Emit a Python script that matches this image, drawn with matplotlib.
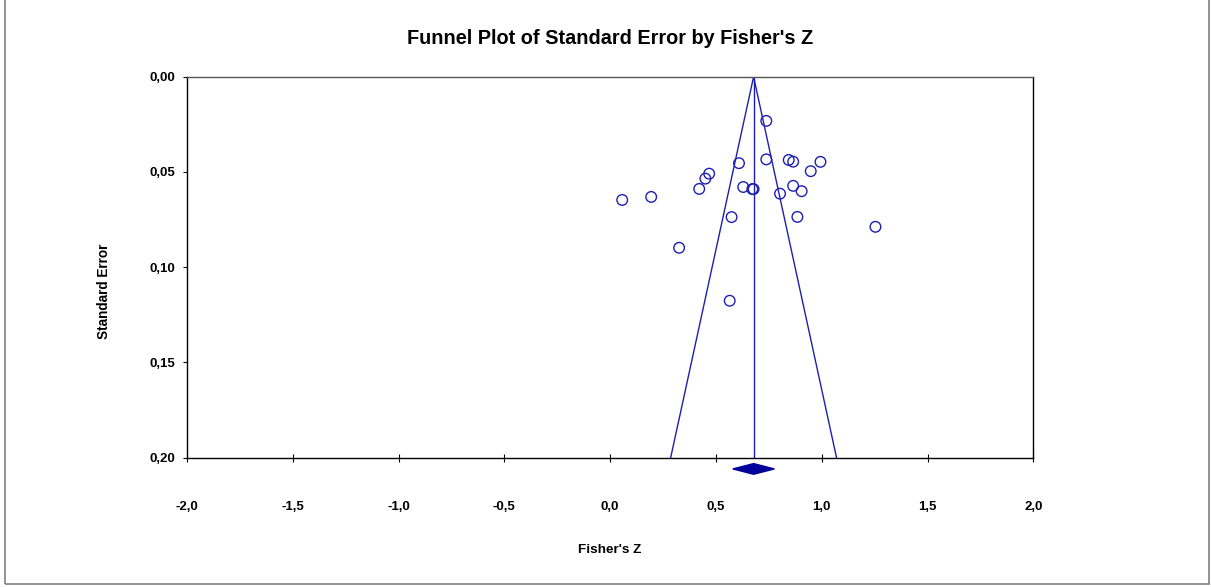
import matplotlib
matplotlib.use("Agg")
import matplotlib.pyplot as plt
from matplotlib.patches import Polygon, Rectangle
import numpy as np

plt.rcParams['font.family'] = ['Liberation Sans', 'DejaVu Sans']

fisher_z = [0.738, 0.609, 0.738, 0.844, 0.865, 0.994, 0.948, 0.468, 0.450, 0.421,
            0.629, 0.672, 0.678, 0.865, 0.905, 0.803, 0.057, 0.194, 0.574, 0.885,
            1.254, 0.326, 0.565]
std_err = [0.0232, 0.0454, 0.0434, 0.0437, 0.0446, 0.0447, 0.0496, 0.0509, 0.0535, 0.0589,
           0.0579, 0.0590, 0.0590, 0.0573, 0.0601, 0.0614, 0.0647, 0.0631, 0.0737, 0.0736,
           0.0788, 0.0898, 0.1176]
pooled_z = 0.678
pooled_ci = (0.580, 0.776)
x_ticks = [-2.0, -1.5, -1.0, -0.5, 0.0, 0.5, 1.0, 1.5, 2.0]
y_ticks = [0.00, 0.05, 0.10, 0.15, 0.20]

W, H = 1211, 587
fig = plt.figure(figsize=(W / 100, H / 100), dpi=100)
ax = fig.add_axes([187 / W, 1 - 457.7 / H, (1033.3 - 187) / W, (457.7 - 76.7) / H])

blue = '#1e1eb4'
ax.scatter(fisher_z, std_err, s=58, facecolors='none', edgecolors=blue, linewidths=1.0, zorder=3)

se_max = 0.20
ax.plot([pooled_z - 1.96 * se_max, pooled_z, pooled_z + 1.96 * se_max], [se_max, 0, se_max],
        color=blue, lw=1.0, zorder=2)
ax.plot([pooled_z, pooled_z], [0, se_max], color=blue, lw=1.0, zorder=2)

dy = 0.0059
dh = 0.0028
diamond = Polygon([[pooled_ci[0], se_max + dy], [pooled_z, se_max + dy - dh],
                   [pooled_ci[1], se_max + dy], [pooled_z, se_max + dy + dh]],
                  closed=True, facecolor='#00009a', edgecolor='#00009a', clip_on=False, zorder=4)
ax.add_patch(diamond)

ax.set_xlim(-2.0, 2.0)
ax.set_ylim(0.20, 0.0)
ax.set_xticks(x_ticks)
ax.set_yticks(y_ticks)
ax.set_xticklabels([f"{v:.1f}".replace('.', ',') for v in x_ticks], fontweight='bold', fontsize=9.5)
ax.set_yticklabels([f"{v:.2f}".replace('.', ',') for v in y_ticks], fontweight='bold', fontsize=9.5)
ax.tick_params(axis='x', direction='inout', length=6, width=0.8, pad=28.5)
ax.tick_params(axis='y', direction='out', length=3, width=0.8, pad=5.5)
for s in ['left', 'bottom', 'right']:
    ax.spines[s].set_color('black')
    ax.spines[s].set_linewidth(1.0)
ax.spines['top'].set_color('#555555')
ax.spines['top'].set_linewidth(1.0)

fig.text(610.5 / W, 1 - 38.5 / H, "Funnel Plot of Standard Error by Fisher's Z", ha='center', va='center',
         fontsize=14.3, fontweight='bold')
fig.text(104 / W, 1 - 291 / H, "Standard Error", ha='center', va='center', rotation=90,
         fontsize=9.8, fontweight='bold')
fig.text(610 / W, 1 - 550 / H, "Fisher's Z", ha='center', va='center',
         fontsize=9.7, fontweight='bold')

fig.patches.append(Rectangle((5 / W, 1 - 583.5 / H), (1209 - 5) / W, 590 / H,
                             transform=fig.transFigure, fill=False, edgecolor='#7f7f7f', lw=1.2))

fig.savefig('out.png', dpi=100)
